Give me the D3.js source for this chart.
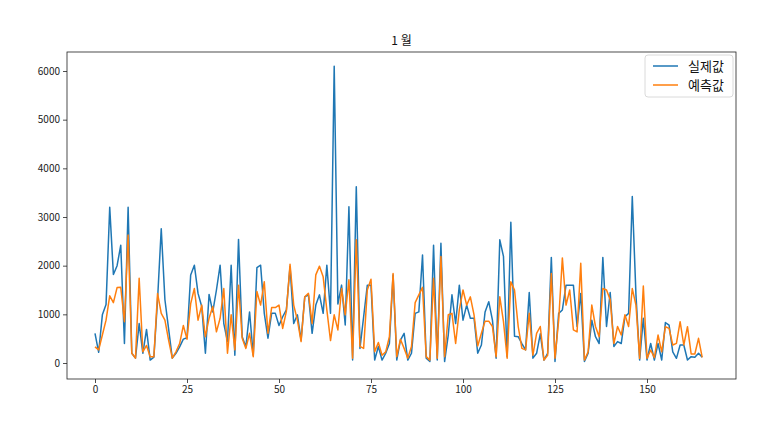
<!DOCTYPE html>
<html>
<head>
<meta charset="utf-8">
<script src="https://cdn.jsdelivr.net/npm/d3@7"></script>
<style>
  body { margin: 0; background: #fff; }
  svg { display: block; font-family: "Noto Sans CJK KR", "Noto Sans", sans-serif; }
</style>
</head>
<body>
<div class="graph-pane"></div>
<script>
// chart values
const title = "1 월";
const seriesNames = ["실제값", "예측값"];
const seriesColors = ["#1f77b4", "#ff7f0e"];

const actual = [
  610, 220, 990, 1200, 3200, 1820, 2000, 2420, 400, 3200,
  200, 100, 810, 200, 690, 60, 120, 1300, 2760, 1300,
  700, 100, 200, 330, 490, 520, 1810, 2010, 1430, 1160,
  200, 1410, 1050, 1500, 2010, 810, 440, 2010, 160, 2540,
  540, 330, 1050, 160, 1960, 2010, 1020, 510, 1020, 1020,
  770, 950, 1090, 1980, 810, 990, 470, 1360, 1400, 610,
  1190, 1400, 1020, 2010, 1020, 6100, 1210, 1600, 780, 3210,
  60, 3620, 300, 950, 1600, 1600, 60, 340, 60, 200,
  400, 1810, 60, 470, 610, 60, 200, 1020, 1050, 2220,
  100, 30, 2420, 60, 2460, 30, 580, 1400, 810, 1600,
  880, 1190, 920, 920, 200, 370, 1050, 1260, 880, 100,
  2530, 2190, 130, 2890, 550, 540, 400, 270, 1450, 100,
  200, 600, 60, 200, 2170, 30, 1020, 1090, 1600, 1600,
  1600, 750, 1430, 30, 200, 880, 540, 400, 2170, 750,
  1450, 340, 440, 400, 950, 1020, 3420, 1400, 60, 920,
  62, 400, 62, 400, 62, 830, 780, 230, 96, 370,
  370, 62, 130, 116, 200, 116
];

const predicted = [
  330, 270, 575, 880, 1380, 1240, 1550, 1555, 850, 2630,
  200, 100, 1740, 230, 360, 130, 130, 1430, 1020, 880,
  470, 100, 230, 400, 770, 490, 1220, 1530, 880, 1190,
  540, 920, 1160, 640, 920, 1530, 200, 990, 270, 1600,
  510, 300, 610, 130, 1470, 1190, 1670, 610, 1140, 1140,
  1190, 710, 1060, 2030, 1190, 880, 440, 1360, 1430, 810,
  1810, 1990, 1770, 1090, 460, 990, 680, 1530, 990, 1710,
  100, 2530, 340, 300, 1500, 1720, 230, 420, 160, 230,
  540, 1840, 130, 490, 300, 100, 340, 1240, 1400, 1555,
  130, 60, 1740, 100, 2190, 130, 990, 1020, 400, 1090,
  1500, 1190, 1360, 990, 350, 610, 860, 860, 750, 130,
  1360, 850, 100, 1670, 1500, 750, 300, 270, 1020, 160,
  610, 750, 60, 160, 1840, 100, 880, 2160, 1190, 1500,
  680, 640, 2050, 60, 230, 1190, 750, 540, 1530, 1500,
  1300, 400, 750, 575, 990, 750, 1530, 1190, 96, 1580,
  96, 267, 110, 575, 230, 746, 712, 370, 404, 849,
  370, 746, 185, 185, 507, 116
];

const xTicks = [0, 25, 50, 75, 100, 125, 150];
const yTicks = [0, 1000, 2000, 3000, 4000, 5000, 6000];

const width = 770, height = 429;
const margin = {top: 52, right: 34, bottom: 50, left: 67};
const plotW = width - margin.left - margin.right;
const plotH = height - margin.top - margin.bottom;

const svg = d3.select(".graph-pane")
  .append("svg")
  .attr("width", width)
  .attr("height", height);

const g = svg.append("g")
  .attr("transform", "translate(" + margin.left + "," + margin.top + ")");

// scales pinned to where the reference puts its ticks
const xScale = d3.scaleLinear().domain([0, 150]).range([28, 580]);
const yScale = d3.scaleLinear().domain([0, 6000]).range([311, 19]);

svg.append("defs").append("clipPath")
  .attr("id", "plot-clip")
  .append("rect")
  .attr("width", plotW)
  .attr("height", plotH);

const line = d3.line()
  .x((d, i) => xScale(i))
  .y(d => yScale(d));

const lines = g.append("g").attr("clip-path", "url(#plot-clip)");
[actual, predicted].forEach((s, k) => {
  lines.append("path")
    .datum(s)
    .attr("fill", "none")
    .attr("stroke", seriesColors[k])
    .attr("stroke-width", 1.5)
    .attr("stroke-linejoin", "round")
    .attr("stroke-linecap", "butt")
    .attr("d", line);
});

// axes (plain integers, no thousands separator)
const xAxis = d3.axisBottom(xScale).tickValues(xTicks).tickSize(4).tickPadding(3).tickFormat(d3.format("d"));
const yAxis = d3.axisLeft(yScale).tickValues(yTicks).tickSize(4).tickPadding(3).tickFormat(d3.format("d"));

const gx = g.append("g")
  .attr("transform", "translate(0," + plotH + ")")
  .call(xAxis);
const gy = g.append("g").call(yAxis);

[gx, gy].forEach(a => {
  a.select(".domain").remove();
  a.selectAll("line").attr("stroke", "#222").attr("stroke-width", 0.8);
  a.selectAll("text")
    .attr("fill", "#222")
    .style("font-size", "10px")
    .style("font-family", "'Noto Sans CJK KR', sans-serif");
});

// frame
g.append("rect")
  .attr("width", plotW)
  .attr("height", plotH)
  .attr("fill", "none")
  .attr("stroke", "#222")
  .attr("stroke-width", 0.8);

// title
svg.append("text")
  .attr("x", margin.left + plotW / 2)
  .attr("y", 45)
  .attr("text-anchor", "middle")
  .attr("fill", "#111")
  .style("font-size", "12px")
  .text(title);

// legend
const legend = g.append("g")
  .attr("transform", "translate(" + (plotW - 91) + ",3)");
legend.append("rect")
  .attr("width", 88)
  .attr("height", 42)
  .attr("rx", 3)
  .attr("fill", "#fff")
  .attr("fill-opacity", 0.8)
  .attr("stroke", "#d0d0d0")
  .attr("stroke-width", 0.8);
seriesNames.forEach((name, k) => {
  const row = legend.append("g").attr("transform", "translate(0," + (11 + k * 19) + ")");
  row.append("line")
    .attr("x1", 8).attr("x2", 33)
    .attr("stroke", seriesColors[k])
    .attr("stroke-width", 1.5);
  row.append("text")
    .attr("x", 43)
    .attr("dy", "0.36em")
    .attr("fill", "#111")
    .style("font-size", "13px")
    .text(name);
});
</script>
</body>
</html>
